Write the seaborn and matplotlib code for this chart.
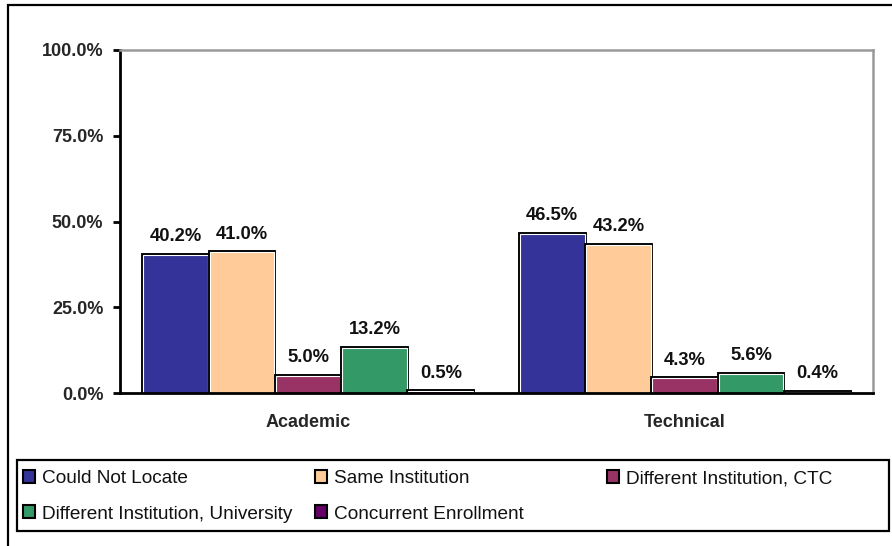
import pandas as pd
import seaborn as sns
import matplotlib.pyplot as plt
import matplotlib.patheffects as pe
from matplotlib.patches import Rectangle, Patch

# chart data
categories = ['Academic', 'Technical']
outcomes = ['Could Not Locate', 'Same Institution', 'Different Institution, CTC',
            'Different Institution, University', 'Concurrent Enrollment']
academic = [40.2, 41.0, 5.0, 13.2, 0.5]
technical = [46.5, 43.2, 4.3, 5.6, 0.4]
colors = ['#333399', '#FFCC99', '#993366', '#339966', '#660066']
y_ticks = [0, 25, 50, 75, 100]

df = pd.DataFrame({
    'category': ['Academic'] * 5 + ['Technical'] * 5,
    'outcome': outcomes * 2,
    'pct': academic + technical,
})

sns.set_style('white')
plt.rcParams['font.family'] = ['Liberation Sans', 'DejaVu Sans']

W, H = 892, 546
fig = plt.figure(figsize=(W / 100, H / 100), dpi=100)
ax = fig.add_axes([120 / W, 1 - 393 / H, (873 - 120) / W, (393 - 50) / H])

sns.barplot(data=df, x='category', y='pct', hue='outcome', order=categories,
            hue_order=outcomes, palette=colors, width=0.88, gap=0.02,
            saturation=1, ax=ax, legend=False, edgecolor='white', linewidth=0.8)

# black outline around white inner edge
for bar in ax.patches:
    bar.set_path_effects([pe.Stroke(linewidth=2.8, foreground='black'), pe.Normal()])

# value labels
for cont in ax.containers:
    ax.bar_label(cont, labels=[f'{v:.1f}%' for v in cont.datavalues], padding=7,
                 fontsize=13.2, fontweight='bold', color='#111111')

ax.set_ylim(0, 100)
ax.set_xlim(-0.5, 1.5)
ax.set_yticks(y_ticks)
ax.set_yticklabels([f'{t:.1f}%' for t in y_ticks], fontsize=13, fontweight='bold')
ax.tick_params(axis='y', direction='out', length=5, width=2, pad=7, left=True, color='black')
ax.tick_params(axis='x', length=0, pad=15, labelsize=13)
for lbl in ax.get_xticklabels():
    lbl.set_fontweight('bold')
ax.set_xlabel('')
ax.set_ylabel('')

for side in ['left', 'bottom']:
    ax.spines[side].set_color('black')
    ax.spines[side].set_linewidth(2)
for side in ['top', 'right']:
    ax.spines[side].set_color('#999999')
    ax.spines[side].set_linewidth(1.8)
    ax.spines[side].set_visible(True)

# outer chart frame
fig.add_artist(Rectangle((8 / W, -0.1), 1.2, 1.1 - 4.5 / H, transform=fig.transFigure,
                         fill=False, edgecolor='black', linewidth=1.6))

# legend box
fig.add_artist(Rectangle((17 / W, 1 - 531 / H), (889 - 17) / W, (531 - 460) / H,
                         transform=fig.transFigure, fill=False, edgecolor='black',
                         linewidth=1.6))

handles = [Patch(facecolor=c, edgecolor='black', linewidth=1.5) for c in colors]
columns = [[0, 3], [1, 4], [2]]
col_x = [23, 315, 607]
for idx, x in zip(columns, col_x):
    leg = fig.legend([handles[i] for i in idx], [outcomes[i] for i in idx],
                     loc='upper left', bbox_to_anchor=(x / W, 1 - 470 / H),
                     frameon=False, fontsize=13.7, borderpad=0, borderaxespad=0,
                     handlelength=0.65, handleheight=0.65, handletextpad=0.35,
                     labelspacing=0.97)
    for t in leg.get_texts():
        t.set_color('#111111')

fig.savefig('out.png', dpi=100)
